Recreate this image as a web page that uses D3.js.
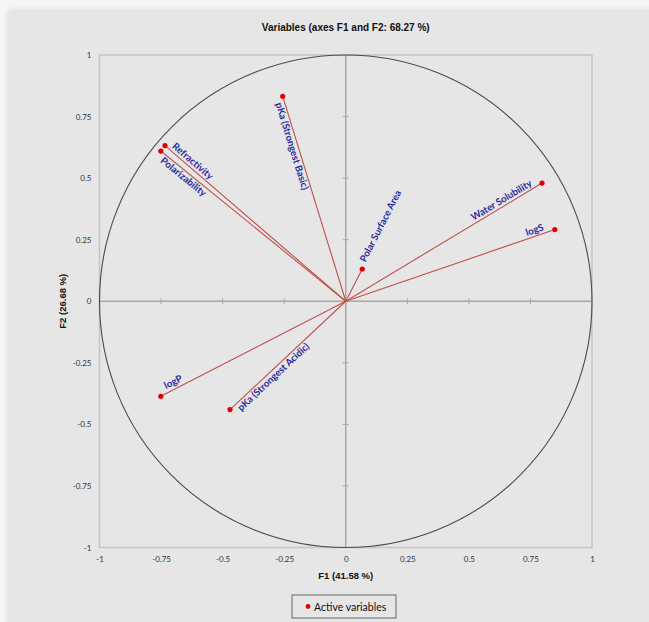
<!DOCTYPE html>
<html>
<head>
<meta charset="utf-8">
<script src="https://cdn.jsdelivr.net/npm/d3@7"></script>
<style>
  html, body { margin: 0; padding: 0; background: #f4f4f4; }
  svg { display: block; }
</style>
</head>
<body>
<div id="chart"></div>
<script>
// Correlation circle data
const variables = ["pKa (Strongest Basic)", "Refractivity", "Polarizability", "Polar Surface Area",
                   "Water Solubility", "logS", "logP", "pKa (Strongest Acidic)"];
const f1 = [-0.256, -0.734, -0.751, 0.067, 0.797, 0.849, -0.751, -0.470];
const f2 = [0.832, 0.632, 0.610, 0.131, 0.480, 0.291, -0.386, -0.440];
const tickValues = [-1, -0.75, -0.5, -0.25, 0, 0.25, 0.5, 0.75, 1];

const title = "Variables (axes F1 and F2: 68.27 %)";
const xTitle = "F1 (41.58 %)";
const yTitle = "F2 (26.68 %)";
const legendLabel = "Active variables";

// label placement: distance along the vector from the point, anchor, perpendicular offset
const labelPlacement = {
    "pKa (Strongest Basic)": { along: 5, anchor: "start", dy: 9 },
    "Refractivity": { along: 6, anchor: "start", dy: -3 },
    "Polarizability": { along: 6, anchor: "start", dy: 9 },
    "Polar Surface Area": { along: 7, anchor: "start", dy: 0 },
    "Water Solubility": { along: -9, anchor: "end", dy: -3 },
    "logS": { along: -10, anchor: "end", dy: -3 },
    "logP": { along: 8, anchor: "start", dy: -4 },
    "pKa (Strongest Acidic)": { along: 7, anchor: "start", dy: 9 }
};

const width = 649, height = 622;
const plot = { left: 99.5, right: 592, top: 55, bottom: 547.5 };

const svg = d3.select("#chart").append("svg")
    .attr("width", width)
    .attr("height", height);

// soft frame around the chart area
const defs = svg.append("defs");
defs.append("filter").attr("id", "blur")
    .append("feGaussianBlur").attr("stdDeviation", 3);

svg.append("rect")
    .attr("width", width).attr("height", height)
    .attr("fill", "#f6f6f6");
svg.append("rect")
    .attr("x", 8).attr("y", 10)
    .attr("width", width).attr("height", height)
    .attr("fill", "#dcdcdc")
    .attr("filter", "url(#blur)");
svg.append("rect")
    .attr("x", 11).attr("y", 12)
    .attr("width", width).attr("height", height)
    .attr("fill", "#e6e6e6");

const x = d3.scaleLinear().domain([-1, 1]).range([plot.left, plot.right]);
const y = d3.scaleLinear().domain([-1, 1]).range([plot.bottom, plot.top]);

// Plot border
svg.append("rect")
    .attr("x", plot.left).attr("y", plot.top)
    .attr("width", plot.right - plot.left)
    .attr("height", plot.bottom - plot.top)
    .attr("fill", "none")
    .attr("stroke", "#c4c4c4")
    .attr("stroke-width", 1.5);

// Tick labels
const fmt = d => String(d);
const xAxis = svg.append("g")
    .attr("transform", `translate(0,${plot.bottom})`)
    .call(d3.axisBottom(x).tickValues(tickValues).tickFormat(fmt).tickSize(0).tickPadding(9));
const yAxis = svg.append("g")
    .attr("transform", `translate(${plot.left},0)`)
    .call(d3.axisLeft(y).tickValues(tickValues).tickFormat(fmt).tickSize(0).tickPadding(8));
[xAxis, yAxis].forEach(a => {
    a.select(".domain").remove();
    a.selectAll("text")
        .attr("fill", "#333")
        .attr("font-family", "Lato, 'Open Sans', sans-serif")
        .attr("font-size", 8);
});

// Zero axes with small crossing ticks
const zero = svg.append("g").attr("stroke", "#a8a8a8");
zero.append("line")
    .attr("x1", x(-1)).attr("x2", x(1))
    .attr("y1", y(0)).attr("y2", y(0))
    .attr("stroke-width", 1.5);
zero.append("line")
    .attr("x1", x(0)).attr("x2", x(0))
    .attr("y1", y(-1)).attr("y2", y(1))
    .attr("stroke-width", 1.5);
zero.selectAll(".tx")
    .data(tickValues.filter(d => Math.abs(d) !== 1 && d !== 0))
    .enter().append("line")
    .attr("x1", d => x(d)).attr("x2", d => x(d))
    .attr("y1", y(0) - 3).attr("y2", y(0) + 3);
zero.selectAll(".ty")
    .data(tickValues.filter(d => Math.abs(d) !== 1 && d !== 0))
    .enter().append("line")
    .attr("x1", x(0) - 3).attr("x2", x(0) + 3)
    .attr("y1", d => y(d)).attr("y2", d => y(d));

// Unit circle
svg.append("circle")
    .attr("cx", x(0)).attr("cy", y(0))
    .attr("r", x(1) - x(0))
    .attr("fill", "none")
    .attr("stroke", "#4a4a4a")
    .attr("stroke-width", 1.1);

const points = variables.map((name, i) => ({ name, f1: f1[i], f2: f2[i] }));

// Vectors
svg.append("g").selectAll("line")
    .data(points)
    .enter().append("line")
    .attr("x1", x(0)).attr("y1", y(0))
    .attr("x2", d => x(d.f1)).attr("y2", d => y(d.f2))
    .attr("stroke", "#c0504d")
    .attr("stroke-width", 1.1);

svg.append("g").selectAll("circle")
    .data(points)
    .enter().append("circle")
    .attr("cx", d => x(d.f1)).attr("cy", d => y(d.f2))
    .attr("r", 2.6)
    .attr("fill", "#e00000");

// Rotated labels along each vector
svg.append("g").selectAll("text")
    .data(points)
    .enter().append("text")
    .attr("transform", d => {
        const px = x(d.f1), py = y(d.f2);
        let a = Math.atan2(py - y(0), px - x(0)) * 180 / Math.PI;
        if (a > 90) a -= 180;
        if (a <= -90) a += 180;
        const p = labelPlacement[d.name];
        const r = a * Math.PI / 180;
        const tx = px + p.along * Math.cos(r), ty = py + p.along * Math.sin(r);
        return `translate(${tx},${ty}) rotate(${a})`;
    })
    .attr("dy", d => labelPlacement[d.name].dy)
    .attr("text-anchor", d => labelPlacement[d.name].anchor)
    .attr("fill", "#2b2b9e")
    .attr("font-family", "Lato, 'Open Sans', sans-serif")
    .attr("font-weight", "bold")
    .attr("font-size", 9.7)
    .text(d => d.name);

// Titles
svg.append("text")
    .attr("x", x(0)).attr("y", 31)
    .attr("text-anchor", "middle")
    .attr("font-family", "'Liberation Sans', Arial, sans-serif")
    .attr("font-weight", "bold")
    .attr("font-size", 10)
    .attr("fill", "#111")
    .text(title);

svg.append("text")
    .attr("x", x(0)).attr("y", 579)
    .attr("text-anchor", "middle")
    .attr("font-family", "'Liberation Sans', Arial, sans-serif")
    .attr("font-weight", "bold")
    .attr("font-size", 9.5)
    .attr("fill", "#111")
    .text(xTitle);

svg.append("text")
    .attr("transform", `translate(66,${y(0)}) rotate(-90)`)
    .attr("text-anchor", "middle")
    .attr("font-family", "'Liberation Sans', Arial, sans-serif")
    .attr("font-weight", "bold")
    .attr("font-size", 9.5)
    .attr("fill", "#111")
    .text(yTitle);

// Legend
const legend = svg.append("g").attr("transform", "translate(292,595)");
legend.append("rect")
    .attr("width", 104).attr("height", 23)
    .attr("fill", "#e6e6e6")
    .attr("stroke", "#666")
    .attr("stroke-width", 1);
legend.append("circle")
    .attr("cx", 16).attr("cy", 11.5)
    .attr("r", 2.4)
    .attr("fill", "#e00000");
legend.append("text")
    .attr("x", 22).attr("y", 15.5)
    .attr("font-family", "Lato, 'Open Sans', sans-serif")
    .attr("font-size", 10.5)
    .attr("fill", "#111")
    .text(legendLabel);
</script>
</body>
</html>
